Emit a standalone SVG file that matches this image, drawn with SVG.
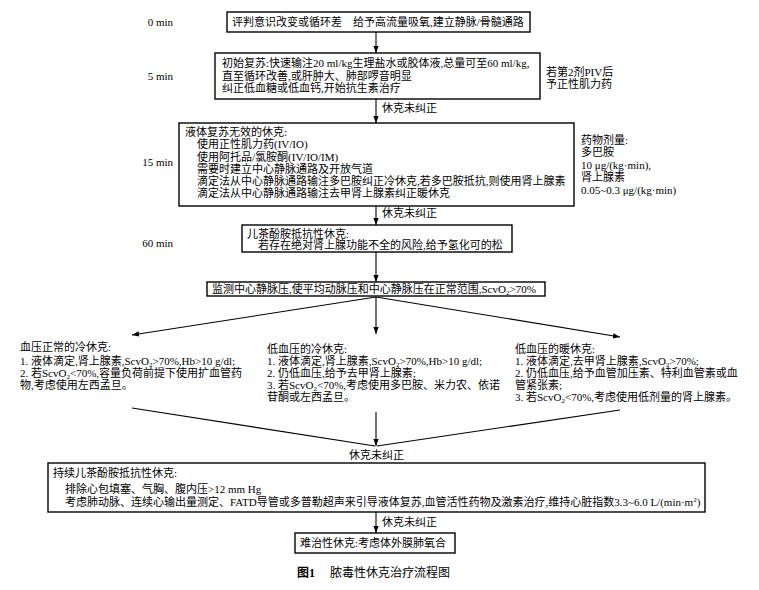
<svg xmlns="http://www.w3.org/2000/svg" width="759" height="590" viewBox="0 0 759 590">
<style>
text{font-family:"Liberation Serif","Noto Sans CJK SC",serif;font-size:11px;fill:#000}
.box{fill:#fff;stroke:#000;stroke-width:1.4}
.ln{fill:none;stroke:#000;stroke-width:1.1}
.t{text-anchor:end}
.cap{font-size:12px}
</style>
<defs>
<marker id="ah" viewBox="0 0 8 8" refX="8" refY="4" markerWidth="7" markerHeight="7" markerUnits="userSpaceOnUse" orient="auto">
<path d="M0,1 L8,4 L0,7 Z" fill="#000"/>
</marker>
</defs>
<rect width="759" height="590" fill="#fff"/>

<g id="times">
<text class="t" x="173" y="26">0 min</text>
<text class="t" x="173" y="80">5 min</text>
<text class="t" x="173" y="166">15 min</text>
<text class="t" x="173" y="247">60 min</text>
</g>

<g id="connectors">
<path class="ln" d="M376,32 V53" marker-end="url(#ah)"/>
<path class="ln" d="M376,99 V123" marker-end="url(#ah)"/>
<path class="ln" d="M376,206 V225" marker-end="url(#ah)"/>
<path class="ln" d="M376,252 V282" marker-end="url(#ah)"/>
<path class="ln" d="M376,297 L132,335" marker-end="url(#ah)"/>
<path class="ln" d="M376,297 V334" marker-end="url(#ah)"/>
<path class="ln" d="M376,297 L620,337" marker-end="url(#ah)"/>
<path class="ln" d="M132,408 L375,446"/>
<path class="ln" d="M620,410 L377,446"/>
<path class="ln" d="M376,412 V446" marker-end="url(#ah)"/>
<path class="ln" d="M376,512 V533" marker-end="url(#ah)"/>
<text x="382" y="112">休克未纠正</text>
<text x="382" y="217">休克未纠正</text>
<text x="349" y="459">休克未纠正</text>
<text x="382" y="526">休克未纠正</text>
</g>

<g id="n1">
<rect class="box" x="227" y="12" width="303" height="20"/>
<text x="232" y="26">评判意识改变或循环差　给予高流量吸氧,建立静脉/骨髓通路</text>
</g>

<g id="n2">
<rect class="box" x="215" y="53" width="325" height="46"/>
<text x="222" y="67">初始复苏:快速输注20 ml/kg生理盐水或胶体液,总量可至60 ml/kg,</text>
<text x="222" y="80">直至循环改善,或肝肿大、肺部啰音明显</text>
<text x="222" y="92">纠正低血糖或低血钙,开始抗生素治疗</text>
</g>
<g id="note1">
<text x="546" y="76">若第2剂PIV后</text>
<text x="546" y="88">予正性肌力药</text>
</g>

<g id="n3">
<rect class="box" x="179" y="123" width="395" height="83"/>
<text x="185" y="136">液体复苏无效的休克:</text>
<text x="197" y="148">使用正性肌力药(IV/IO)</text>
<text x="197" y="161">使用阿托品/氯胺酮(IV/IO/IM)</text>
<text x="197" y="173">需要时建立中心静脉通路及开放气道</text>
<text x="197" y="185">滴定法从中心静脉通路输注多巴胺纠正冷休克,若多巴胺抵抗,则使用肾上腺素</text>
<text x="197" y="197">滴定法从中心静脉通路输注去甲肾上腺素纠正暖休克</text>
</g>
<g id="note2">
<text x="581" y="144">药物剂量:</text>
<text x="581" y="156">多巴胺</text>
<text x="581" y="169">10 μg/(kg·min),</text>
<text x="581" y="181">肾上腺素</text>
<text x="581" y="194">0.05~0.3 μg/(kg·min)</text>
</g>

<g id="n4">
<rect class="box" x="242" y="225" width="270" height="27"/>
<text x="247" y="238">儿茶酚胺抵抗性休克:</text>
<text x="258" y="249">若存在绝对肾上腺功能不全的风险,给予氢化可的松</text>
</g>

<g id="n5">
<rect class="box" x="207" y="282" width="338" height="14"/>
<text x="212" y="293">监测中心静脉压,使平均动脉压和中心静脉压在正常范围,ScvO<tspan font-size="7" dy="2">2</tspan><tspan dy="-2">&gt;70%</tspan></text>
</g>

<g id="b1">
<text x="20" y="351">血压正常的冷休克:</text>
<text x="20" y="365">1. 液体滴定,肾上腺素,ScvO<tspan font-size="7" dy="2">2</tspan><tspan dy="-2">&gt;70%,Hb&gt;10 g/dl;</tspan></text>
<text x="20" y="377">2. 若ScvO<tspan font-size="7" dy="2">2</tspan><tspan dy="-2">&lt;70%,容量负荷前提下使用扩血管药</tspan></text>
<text x="20" y="389">物,考虑使用左西孟旦。</text>
</g>

<g id="b2">
<text x="267" y="353">低血压的冷休克:</text>
<text x="267" y="365">1. 液体滴定,肾上腺素,ScvO<tspan font-size="7" dy="2">2</tspan><tspan dy="-2">&gt;70%,Hb&gt;10 g/dl;</tspan></text>
<text x="267" y="377">2. 仍低血压,给予去甲肾上腺素;</text>
<text x="267" y="389">3. 若ScvO<tspan font-size="7" dy="2">2</tspan><tspan dy="-2">&lt;70%,考虑使用多巴胺、米力农、依诺</tspan></text>
<text x="267" y="401">苷酮或左西孟旦。</text>
</g>

<g id="b3">
<text x="515" y="353">低血压的暖休克:</text>
<text x="515" y="365">1. 液体滴定,去甲肾上腺素,ScvO<tspan font-size="7" dy="2">2</tspan><tspan dy="-2">&gt;70%;</tspan></text>
<text x="515" y="377">2. 仍低血压,给予血管加压素、特利血管素或血</text>
<text x="515" y="389">管紧张素;</text>
<text x="515" y="401">3. 若ScvO<tspan font-size="7" dy="2">2</tspan><tspan dy="-2">&lt;70%,考虑使用低剂量的肾上腺素。</tspan></text>
</g>

<g id="n6">
<rect class="box" x="48" y="463" width="657" height="49"/>
<text x="53" y="477">持续儿茶酚胺抵抗性休克:</text>
<text x="65" y="493">排除心包填塞、气胸、腹内压&gt;12 mm Hg</text>
<text x="65" y="506">考虑肺动脉、连续心输出量测定、FATD导管或多普勒超声来引导液体复苏,血管活性药物及激素治疗,维持心脏指数3.3~6.0 L/(min·m<tspan font-size="7" dy="-4">2</tspan><tspan dy="4">)</tspan></text>
</g>

<g id="n7">
<rect class="box" x="295" y="533" width="160" height="20"/>
<text x="300" y="547">难治性休克:考虑体外膜肺氧合</text>
</g>

<g id="caption">
<text class="cap" x="297" y="577" font-weight="bold">图1</text>
<text class="cap" x="330" y="577">脓毒性休克治疗流程图</text>
</g>
</svg>
